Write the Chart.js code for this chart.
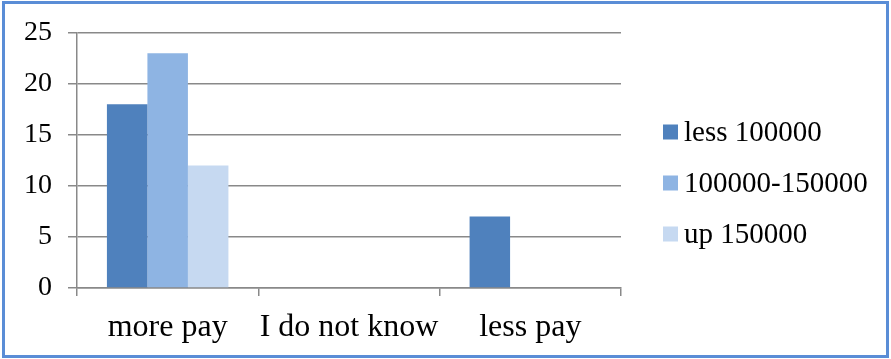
<!DOCTYPE html>
<html>
<head>
<meta charset="utf-8">
<script src="https://cdn.jsdelivr.net/npm/chart.js@4.4.1/dist/chart.umd.min.js"></script>
<style>
  html, body { margin: 0; padding: 0; background: #fff; }
  #wrap { position: relative; width: 891px; height: 359px; }
  #wrap canvas { position: absolute; left: 0; top: 0; }
  #frame {
    position: absolute; left: 2px; top: 1px; width: 887px; height: 357px;
    box-sizing: border-box; border: 3px solid #5A8DD6; pointer-events: none;
  }
</style>
</head>
<body>
<div id="wrap">
  <canvas id="payChart" width="891" height="359"></canvas>
  <div id="frame"></div>
</div>
<script>
// answers grouped by income band
const categories = ["more pay", "I do not know", "less pay"];
const seriesNames = ["less 100000", "100000-150000", "up 150000"];
const lessThan100k = [18, 0, 7];
const from100kTo150k = [23, 0, 0];
const over150k = [12, 0, 0];
const yTicks = [0, 5, 10, 15, 20, 25];

const colors = ["#4F81BD", "#8EB4E3", "#C6D9F1"];
const gridColor = "#898989";
const serif = "'Liberation Serif', 'Times New Roman', serif";

// legend on the right, drawn straight onto the canvas
const sideLegend = {
  id: "sideLegend",
  afterDraw(chart) {
    const ctx = chart.ctx;
    ctx.save();
    ctx.font = "29px " + serif;
    ctx.textBaseline = "middle";
    chart.data.datasets.forEach((ds, i) => {
      const cy = 132 + i * 51;
      ctx.fillStyle = ds.backgroundColor;
      ctx.fillRect(663, cy - 7.5, 15, 15);
      ctx.fillStyle = "#000";
      ctx.fillText(ds.label, 684, cy + 1);
    });
    ctx.restore();
  }
};

const datasets = [lessThan100k, from100kTo150k, over150k].map((values, i) => ({
  label: seriesNames[i],
  data: values,
  backgroundColor: colors[i],
  borderWidth: 0,
  categoryPercentage: 0.67,
  barPercentage: 1.0
}));

new Chart(document.getElementById("payChart"), {
  type: "bar",
  data: { labels: categories, datasets: datasets },
  options: {
    responsive: false,
    animation: false,
    devicePixelRatio: 1,
    layout: { padding: { left: 0, top: 32, right: 270, bottom: 11 } },
    plugins: { legend: { display: false }, tooltip: { enabled: false } },
    scales: {
      x: {
        grid: { drawOnChartArea: false, color: gridColor, lineWidth: 1.5, tickLength: 8, offset: true },
        border: { color: gridColor, width: 1.5 },
        ticks: { color: "#000", font: { family: serif, size: 32 }, padding: 12, maxRotation: 0, autoSkip: false },
        afterFit: (scale) => { scale.height = 60; }
      },
      y: {
        min: 0,
        max: 25,
        afterBuildTicks: (scale) => { scale.ticks = yTicks.map(v => ({ value: v })); },
        grid: { color: gridColor, lineWidth: 1.5, tickLength: 9 },
        border: { color: gridColor, width: 1.5 },
        ticks: { color: "#000", font: { family: serif, size: 28 }, padding: 16 },
        afterFit: (scale) => { scale.width = 77; }
      }
    }
  },
  plugins: [sideLegend]
});
</script>
</body>
</html>
